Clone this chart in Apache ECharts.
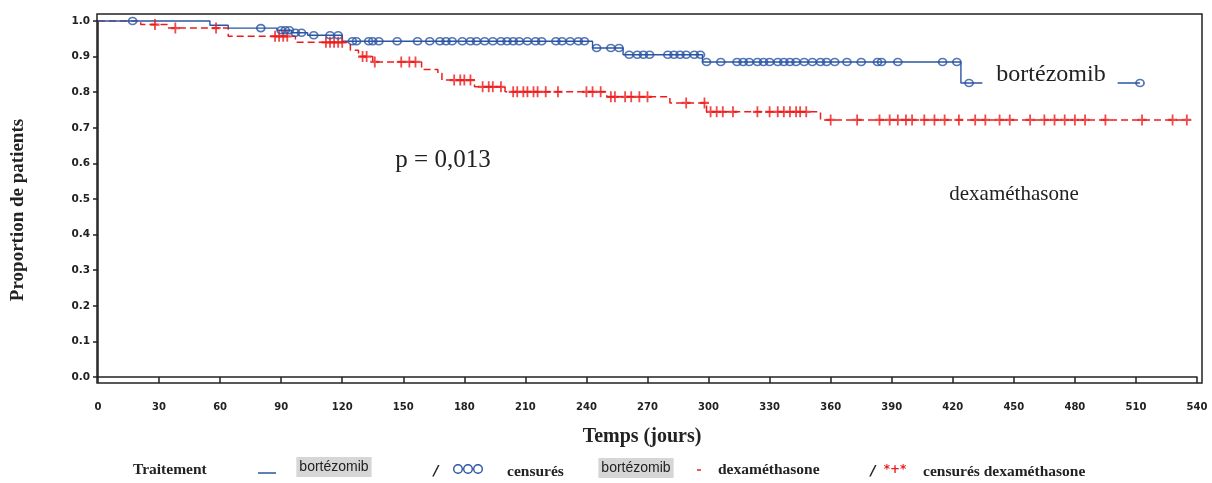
<!DOCTYPE html>
<html>
<head>
<meta charset="utf-8">
<script src="https://cdn.jsdelivr.net/npm/echarts@6/dist/echarts.min.js"></script>
<style>
html,body{margin:0;padding:0;background:#fff;}
#chart{width:1212px;height:483px;}
</style>
</head>
<body>
<div id="chart"></div>
<script>
// ---- Data ----
const xTicks = [0,30,60,90,120,150,180,210,240,270,300,330,360,390,420,450,480,510,540];
const yTicks = [0,0.1,0.2,0.3,0.4,0.5,0.6,0.7,0.8,0.9,1.0];

// bortézomib Kaplan-Meier steps (time in days, survival proportion)
const bortTimes = [0, 55, 64, 88, 95, 103, 120, 243, 258, 297, 424, 512];
const bortSurv  = [1.0, 0.988, 0.98, 0.974, 0.967, 0.96, 0.943, 0.924, 0.905, 0.885, 0.826, 0.826];
// bortézomib censored times
const bortCens = [17, 80, 90, 92, 94, 97, 100, 106, 114, 118, 125, 127, 133, 135, 138, 147, 157, 163, 168, 171, 174, 179, 183, 186, 190, 194, 198, 201, 204, 207, 211, 215, 218, 225, 228, 232, 236, 239, 245, 252, 256, 261, 265, 268, 271, 280, 283, 286, 289, 293, 296, 299, 306, 314, 317, 320, 324, 327, 330, 334, 337, 340, 343, 347, 351, 355, 358, 362, 368, 375, 383, 385, 393, 415, 422, 428, 512];

// dexaméthasone Kaplan-Meier steps
const dexaTimes = [0, 21, 34, 64, 97, 124, 128, 135, 159, 167, 169, 185, 200, 250, 281, 299, 355, 535];
const dexaSurv  = [1.0, 0.99, 0.98, 0.957, 0.94, 0.918, 0.9, 0.885, 0.864, 0.853, 0.834, 0.815, 0.801, 0.787, 0.77, 0.745, 0.722, 0.722];
// dexaméthasone censored times
const dexaCens = [28, 38, 58, 87, 89, 91, 93, 112, 114, 116, 118, 120, 130, 132, 136, 149, 153, 156, 175, 178, 180, 183, 189, 192, 194, 198, 204, 206, 209, 211, 214, 216, 220, 226, 240, 243, 247, 252, 254, 259, 262, 266, 270, 289, 298, 301, 304, 307, 312, 324, 330, 334, 337, 340, 343, 345, 348, 360, 373, 384, 389, 393, 397, 400, 406, 411, 416, 423, 431, 436, 443, 448, 458, 465, 470, 475, 480, 485, 495, 513, 528, 535];

// ---- helpers ----
function kmAt(times, surv, t){
  let v = surv[0];
  for (let i=0;i<times.length;i++){ if (times[i] <= t) v = surv[i]; }
  return v;
}
const bortLine = bortTimes.map((t,i)=>[t, bortSurv[i]]);
const dexaLine = dexaTimes.map((t,i)=>[t, dexaSurv[i]]);
const bortMarks = bortCens.map(t=>[t, kmAt(bortTimes,bortSurv,t)]);
const dexaMarks = dexaCens.map(t=>[t, kmAt(dexaTimes,dexaSurv,t)]);

const BLUE = '#2a55a4';
const RED = '#ee1c1c';
const PLUS = 'path://M4,0 L6,0 L6,4 L10,4 L10,6 L6,6 L6,10 L4,10 L4,6 L0,6 L0,4 L4,4 Z';
const SERIF = '"Liberation Serif", "DejaVu Serif", serif';
const SANS = '"DejaVu Sans", sans-serif';

const chart = echarts.init(document.getElementById('chart'), null, {renderer:'canvas'});
chart.setOption({
  animation:false,
  backgroundColor:'#fff',
  grid:{left:98, right:15, top:21, bottom:106, containLabel:false},
  xAxis:{
    type:'value', min:0, max:540, interval:30, offset:6,
    axisLine:{show:true, lineStyle:{color:'#222', width:1.5}},
    axisTick:{show:true, inside:false, length:6, lineStyle:{color:'#222', width:1.5}},
    axisLabel:{show:true, margin:19, fontFamily:SANS, fontWeight:'bold', fontSize:10, color:'#222',
      formatter:v=>xTicks.indexOf(v)>=0 ? String(v) : ''},
    splitLine:{show:false}
  },
  yAxis:{
    type:'value', min:0, max:1, interval:0.1, offset:1,
    axisLine:{show:true, lineStyle:{color:'#222', width:1.5}},
    axisTick:{show:true, inside:false, length:5, lineStyle:{color:'#222', width:1.5}},
    axisLabel:{show:true, margin:7, fontFamily:SANS, fontWeight:'bold', fontSize:10.5, color:'#222',
      formatter:v=>{ const f = yTicks.find(t=>Math.abs(t-v)<1e-6); return f===undefined ? '' : f.toFixed(1); }},
    splitLine:{show:false}
  },
  series:[
    {type:'line', name:'dexaméthasone', step:'end', data:dexaLine, showSymbol:false, symbol:'none',
      lineStyle:{color:RED, width:1.5, type:[7,4]}, z:2, clip:false},
    {type:'line', name:'bortézomib', step:'end', data:bortLine, showSymbol:false, symbol:'none',
      lineStyle:{color:BLUE, width:1.4}, z:3, clip:false},
    {type:'scatter', name:'censurés dexaméthasone', data:dexaMarks, symbol:PLUS, symbolSize:[9,11],
      itemStyle:{color:RED}, z:4, clip:false},
    {type:'scatter', name:'censurés bortézomib', data:bortMarks, symbol:'circle', symbolSize:[8,7],
      itemStyle:{color:'rgba(255,255,255,0)', borderColor:BLUE, borderWidth:1.7}, z:5, clip:false}
  ],
  graphic:[
    {type:'rect', shape:{x:97, y:14, width:1105, height:369}, style:{fill:'none', stroke:'#222', lineWidth:1.5}, z:10, silent:true},
    {type:'text', x:18, y:210, rotation:Math.PI/2, z:10,
      style:{text:'Proportion de patients', font:'bold 19px '+SERIF, fill:'#222', textAlign:'center', textVerticalAlign:'middle'}},
    {type:'text', x:642, y:437, z:10,
      style:{text:'Temps (jours)', font:'bold 20px '+SERIF, fill:'#222', textAlign:'center', textVerticalAlign:'middle'}},
    {type:'text', x:443, y:160, z:10,
      style:{text:'p = 0,013', font:'25px '+SERIF, fill:'#222', textAlign:'center', textVerticalAlign:'middle'}},
    {type:'text', x:1050, y:75, z:10,
      style:{text:'bortézomib', font:'24px '+SERIF, fill:'#222', textAlign:'center', textVerticalAlign:'middle',
        backgroundColor:'#fff', padding:[4,12,4,14]}},
    {type:'text', x:1014, y:194, z:10,
      style:{text:'dexaméthasone', font:'21px '+SERIF, fill:'#222', textAlign:'center', textVerticalAlign:'middle'}},
    // legend row
    {type:'text', x:133, y:470, z:10,
      style:{text:'Traitement', font:'bold 15.5px '+SERIF, fill:'#222', textAlign:'left', textVerticalAlign:'middle'}},
    {type:'line', shape:{x1:258, y1:473, x2:276, y2:473}, style:{stroke:BLUE, lineWidth:1.5}, z:10},
    {type:'text', x:334, y:467, z:10,
      style:{text:'bortézomib', font:'14px "Liberation Sans", Arial, sans-serif', fill:'#222', textAlign:'center', textVerticalAlign:'middle',
        backgroundColor:'#d6d6d6', padding:[3,3,3,3]}},
    {type:'text', x:436, y:471, z:10,
      style:{text:'/', font:'italic bold 14px '+SANS, fill:'#222', textAlign:'center', textVerticalAlign:'middle'}},
    {type:'circle', shape:{cx:458, cy:469, r:4.3}, style:{fill:'none', stroke:BLUE, lineWidth:1.4}, z:10},
    {type:'circle', shape:{cx:468, cy:469, r:4.3}, style:{fill:'none', stroke:BLUE, lineWidth:1.4}, z:10},
    {type:'circle', shape:{cx:478, cy:469, r:4.3}, style:{fill:'none', stroke:BLUE, lineWidth:1.4}, z:10},
    {type:'text', x:507, y:472, z:10,
      style:{text:'censurés', font:'bold 15.5px '+SERIF, fill:'#222', textAlign:'left', textVerticalAlign:'middle'}},
    {type:'text', x:636, y:468, z:10,
      style:{text:'bortézomib', font:'14px "Liberation Sans", Arial, sans-serif', fill:'#222', textAlign:'center', textVerticalAlign:'middle',
        backgroundColor:'#d6d6d6', padding:[3,3,3,3]}},
    {type:'line', shape:{x1:697, y1:470, x2:701, y2:470}, style:{stroke:RED, lineWidth:1.5}, z:10},
    {type:'text', x:718, y:470, z:10,
      style:{text:'dexaméthasone', font:'bold 15.5px '+SERIF, fill:'#222', textAlign:'left', textVerticalAlign:'middle'}},
    {type:'text', x:873, y:471, z:10,
      style:{text:'/', font:'italic bold 14px '+SANS, fill:'#222', textAlign:'center', textVerticalAlign:'middle'}},
    {type:'text', x:895, y:470, z:10,
      style:{text:'*+*', font:'bold 12px '+SANS, fill:RED, textAlign:'center', textVerticalAlign:'middle'}},
    {type:'text', x:923, y:472, z:10,
      style:{text:'censurés dexaméthasone', font:'bold 15.5px '+SERIF, fill:'#222', textAlign:'left', textVerticalAlign:'middle'}}
  ]
});
</script>
</body>
</html>
